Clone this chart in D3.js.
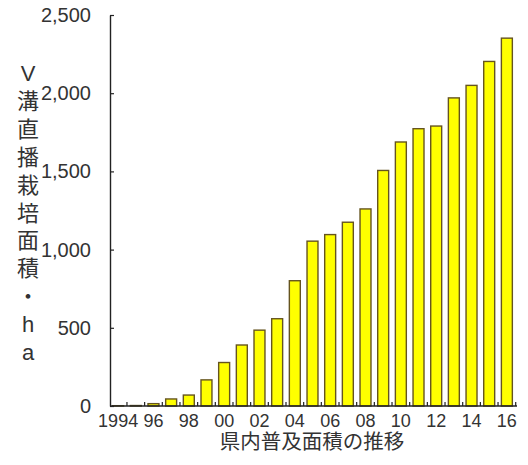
<!DOCTYPE html>
<html>
<head>
<meta charset="utf-8">
<script src="https://cdn.jsdelivr.net/npm/d3@7"></script>
<style>
  body { margin: 0; background: #fff; }
  text { font-family: "Liberation Sans", Arial, "Noto Sans CJK JP", sans-serif; fill: #333; }
</style>
</head>
<body>
<script>
  // 県内のV溝直播栽培面積 (ha)
  var years = [1994,1995,1996,1997,1998,1999,2000,2001,2002,2003,2004,2005,2006,2007,2008,2009,2010,2011,2012,2013,2014,2015,2016];
  var areas = [2,3,15,45,70,167,278,390,485,558,801,1054,1096,1175,1260,1506,1688,1773,1790,1970,2050,2203,2352];
  var yTicks = [0,500,1000,1500,2000,2500];
  var xLabelYears = [1994,1996,1998,2000,2002,2004,2006,2008,2010,2012,2014,2016];
  var yTitle = ["V","溝","直","播","栽","培","面","積","・","h","a"];
  var xTitle = "県内普及面積の推移";

  var W = 528, H = 465;
  var svg = d3.select("body").append("svg").attr("width", W).attr("height", H);

  var x = d3.scaleBand().domain(years).range([110, 515]).paddingInner(0.38).paddingOuter(0.15);
  var y = d3.scaleLinear().domain([0, 2500]).range([406, 15]);

  // bars
  svg.selectAll("rect.bar").data(years).enter().append("rect")
    .attr("class", "bar")
    .attr("x", function(d){ return x(d); })
    .attr("y", function(d,i){ return y(areas[i]); })
    .attr("width", x.bandwidth())
    .attr("height", function(d,i){ return y(0) - y(areas[i]); })
    .attr("fill", "#ffff00")
    .attr("stroke", "#65541f")
    .attr("stroke-width", 1.4);

  // y axis
  var yAxis = svg.append("g").attr("transform", "translate(110,0)")
    .call(d3.axisLeft(y).tickValues(yTicks).tickSizeInner(-4).tickSizeOuter(0).tickPadding(19)
      .tickFormat(d3.format(",")));
  yAxis.select(".domain").attr("stroke", "#222").attr("stroke-width", 1.4);
  yAxis.selectAll(".tick line").attr("stroke", "#222").attr("stroke-width", 1.2);
  yAxis.selectAll("text").style("font-size", "20px").attr("fill", "#333");

  // x axis labels
  var xAxis = svg.append("g").attr("transform", "translate(0,406)")
    .call(d3.axisBottom(x).tickValues(xLabelYears).tickSize(0).tickPadding(8)
      .tickFormat(function(d){ return d === 1994 ? "1994" : String(d).slice(2); }));
  xAxis.select(".domain").remove();
  xAxis.selectAll("text").style("font-size", "18px").attr("fill", "#333");

  // x axis line + ticks between bars
  var gap = x.step() - x.bandwidth();
  svg.append("line").attr("x1", 110).attr("x2", 517).attr("y1", y(0)).attr("y2", y(0))
    .attr("stroke", "#222").attr("stroke-width", 1.4);
  var bounds = years.slice(1).map(function(d){ return x(d) - gap / 2; });
  bounds.push(x(years[years.length - 1]) + x.bandwidth() + gap / 2);
  svg.selectAll("line.xt").data(bounds).enter().append("line")
    .attr("class", "xt")
    .attr("x1", function(d){ return d; }).attr("x2", function(d){ return d; })
    .attr("y1", y(0)).attr("y2", y(0) - 4)
    .attr("stroke", "#222").attr("stroke-width", 1.2);

  // y title, stacked vertically
  var yt = svg.append("text").attr("x", 28).attr("y", 81)
    .attr("text-anchor", "middle").style("font-size", "22px");
  yTitle.forEach(function(c, i){
    yt.append("tspan").attr("x", 28).attr("dy", i === 0 ? 0 : 27.9).text(c);
  });

  // x title
  svg.append("text").attr("x", 312).attr("y", 449).attr("text-anchor", "middle")
    .style("font-size", "20.5px").text(xTitle);
</script>
</body>
</html>
